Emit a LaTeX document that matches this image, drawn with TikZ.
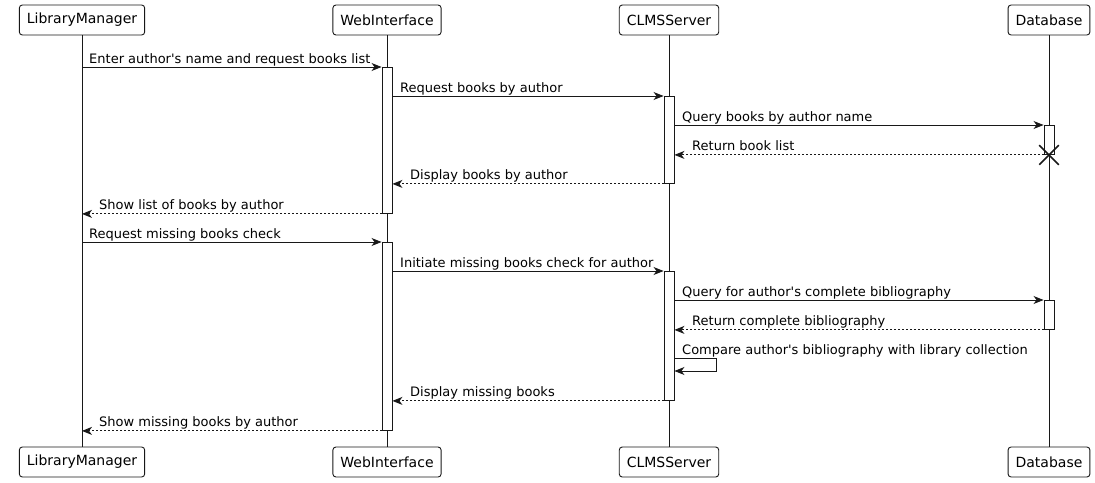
\documentclass[tikz,border=0pt]{standalone}
\usepackage{fontspec}
\setmainfont{DejaVu Sans}[Ligatures=TeXOff]
\usetikzlibrary{arrows.meta, shapes.misc}
\definecolor{linedark}{RGB}{24, 24, 24}

\begin{document}
\begin{tikzpicture}[
    x=1pt, y=-1pt,
    font=\fontsize{13}{15}\selectfont,
    actor/.style={rectangle, draw=linedark, fill=white, rounded corners=3pt, minimum height=30pt, inner xsep=7.5pt, line width=0.9pt, font=\fontsize{14}{16}\selectfont},
    act/.style={rectangle, draw=linedark, fill=white, minimum width=10pt, inner sep=0pt, anchor=north, line width=0.9pt},
    lifeline/.style={draw=linedark, line width=0.9pt},
    msg/.style={-{Stealth[length=10pt, width=8pt, inset=3pt]}, line width=0.9pt, color=linedark},
    reply/.style={msg, dash pattern=on 2pt off 2pt},
    lbl/.style={anchor=base west, inner sep=0pt},
]
\useasboundingbox (0,0) rectangle (1095,482);

% Participants
\node[actor] (lm) at (82,20) {LibraryManager};
\node[actor] (wi) at (387,20) {WebInterface};
\node[actor] (cs) at (669,20) {CLMSServer};
\node[actor] (db) at (1049,20) {Database};

\node[actor] (lmb) at (82,462) {LibraryManager};
\node[actor] (wib) at (387,462) {WebInterface};
\node[actor] (csb) at (669,462) {CLMSServer};
\node[actor] (dbb) at (1049,462) {Database};

% Lifelines
\draw[lifeline] (lm) -- (lmb);
\draw[lifeline] (wi) -- (wib);
\draw[lifeline] (cs) -- (csb);
\draw[lifeline] (db) -- (dbb);

% Activations
\node[act, minimum height=146pt] (wia1) at (387,67) {};
\node[act, minimum height=87pt] (csa1) at (669,96) {};
\node[act, minimum height=29pt] (dba1) at (1049,125) {};
\node[act, minimum height=188pt] (wia2) at (387,242) {};
\node[act, minimum height=129pt] (csa2) at (669,271) {};
\node[act, minimum height=29pt] (dba2) at (1049,300) {};

% Books by author
\draw[msg] (lm |- wia1.north) -- (wia1.north west);
\node[lbl] (l1) at (89,63) {Enter author's name and request books list};
\draw[msg] (wia1.east |- csa1.north) -- (csa1.north west);
\node[lbl] (l2) at (400,92) {Request books by author};
\draw[msg] (csa1.east |- dba1.north) -- (dba1.north west);
\node[lbl] (l3) at (682,121) {Query books by author name};
\draw[reply] (dba1.south west) -- (csa1.east |- dba1.south);
\node[lbl] (l4) at (692,150) {Return book list};
\node[cross out, draw=linedark, line width=1.6pt, minimum size=18pt, inner sep=0pt] (kill) at (dba1.south) {};
\draw[reply] (csa1.south west) -- (wia1.east |- csa1.south);
\node[lbl] (l5) at (410,179) {Display books by author};
\draw[reply] (wia1.south west) -- (lm |- wia1.south);
\node[lbl] (l6) at (99,209) {Show list of books by author};

% Missing books
\draw[msg] (lm |- wia2.north) -- (wia2.north west);
\node[lbl] (l7) at (89,238) {Request missing books check};
\draw[msg] (wia2.east |- csa2.north) -- (csa2.north west);
\node[lbl] (l8) at (400,267) {Initiate missing books check for author};
\draw[msg] (csa2.east |- dba2.north) -- (dba2.north west);
\node[lbl] (l9) at (682,296) {Query for author's complete bibliography};
\draw[reply] (dba2.south west) -- (csa2.east |- dba2.south);
\node[lbl] (l10) at (692,325) {Return complete bibliography};

\coordinate (loopa) at (716,358);
\coordinate (loopb) at (716,371);
\draw[msg] (csa2.east |- loopa) -- (loopa) -- (loopb) -- (csa2.east |- loopb);
\node[lbl] (l11) at (682,354) {Compare author's bibliography with library collection};

\draw[reply] (csa2.south west) -- (wia2.east |- csa2.south);
\node[lbl] (l12) at (410,396) {Display missing books};
\draw[reply] (wia2.south west) -- (lm |- wia2.south);
\node[lbl] (l13) at (99,426) {Show missing books by author};

\end{tikzpicture}
\end{document}
